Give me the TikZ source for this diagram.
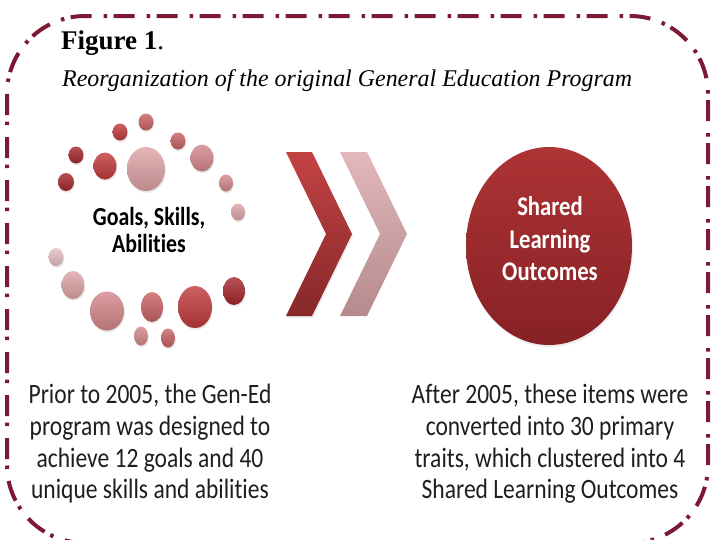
\documentclass[tikz,border=0pt]{standalone}
\usepackage{fontspec}
\usepackage{graphicx}
\usetikzlibrary{shapes.geometric,shadows}
\newfontfamily\bodyfont[FakeStretch=0.84, Ligatures=NoCommon]{Carlito}
\newfontfamily\titlefont{Liberation Serif}
\definecolor{framecol}{HTML}{7C1A33}
\definecolor{txt}{HTML}{1E1E1E}
\definecolor{dk}{HTML}{A3262B}
\definecolor{rd}{HTML}{C0393B}
\definecolor{md}{HTML}{C76164}
\definecolor{pk}{HTML}{D3878A}
\definecolor{lp}{HTML}{DCA3A6}
\definecolor{vl}{HTML}{E6BFC1}
\definecolor{chtop}{HTML}{E2B8BA}
\definecolor{chbot}{HTML}{B68A8D}
\definecolor{slotop}{HTML}{AE3334}
\definecolor{slobot}{HTML}{862126}
\tikzset{
  bub/.style={ellipse, inner sep=0pt, draw=none,
    top color=#1!80!white, bottom color=#1!85!black,
    drop shadow={shadow xshift=0.8pt, shadow yshift=-1.8pt, opacity=0.18}},
  bodytext/.style={align=center, inner sep=0pt, text=txt,
    font=\bodyfont\fontsize{28}{31.7}\selectfont},
}
\begin{document}
\begin{tikzpicture}[x=1pt,y=-1pt]
\useasboundingbox (0,0) rectangle (713,539);
\begin{scope}
\clip (0,0) rectangle (713,539);
\draw[framecol, line width=4pt, dash pattern=on 21pt off 6.5pt on 3.5pt off 12pt,
  rounded corners=78pt] (7,16) rectangle (708,543);
\end{scope}

% title
\node[anchor=base west, inner sep=0pt] (fig) at (61,49)
  {\titlefont\fontsize{27}{30}\selectfont\bfseries Figure 1\mdseries.};
\node[anchor=base west, inner sep=0pt] (sub) at (62,86)
  {\resizebox{570pt}{\height}{\titlefont\itshape\fontsize{24}{28}\selectfont Reorganization of the original General Education Program}};

% bubbles
\node[bub=md, minimum width=15pt, minimum height=17pt] (b1) at (146,122) {};
\node[bub=rd, minimum width=15pt, minimum height=17pt] (b2) at (120,132) {};
\node[bub=md, minimum width=15pt, minimum height=17pt] (b3) at (178,141) {};
\node[bub=dk, minimum width=15pt, minimum height=17pt] (b4) at (76,155) {};
\node[bub=rd, minimum width=23pt, minimum height=27pt] (b5) at (105,166) {};
\node[bub=lp, minimum width=38pt, minimum height=44pt] (b6) at (146,169) {};
\node[bub=pk, minimum width=23pt, minimum height=27pt] (b7) at (202,158) {};
\node[bub=dk, minimum width=16pt, minimum height=18pt] (b8) at (66,182) {};
\node[bub=pk, minimum width=14pt, minimum height=17pt] (b9) at (226,183) {};
\node[bub=lp, minimum width=14pt, minimum height=17pt] (b10) at (238,212) {};
\node[bub=vl, minimum width=15pt, minimum height=18pt] (b11) at (56,257) {};
\node[bub=lp, minimum width=23pt, minimum height=28pt] (b12) at (73,285) {};
\node[bub=pk, minimum width=34pt, minimum height=39pt] (b13) at (107,311) {};
\node[bub=md, minimum width=22pt, minimum height=30pt] (b14) at (152,307) {};
\node[bub=rd, minimum width=34pt, minimum height=42pt] (b15) at (195,307) {};
\node[bub=dk, minimum width=22pt, minimum height=28pt] (b16) at (234,291) {};
\node[bub=pk, minimum width=14pt, minimum height=19pt] (b17) at (141,336) {};
\node[bub=md, minimum width=14pt, minimum height=19pt] (b18) at (168,338) {};

\node[inner sep=0pt, align=center, text=black,
  font=\bodyfont\bfseries\fontsize{26}{27}\selectfont] (goals) at (149,230)
  {Goals, Skills,\\Abilities};

% chevrons
\shade[top color=rd!95!white, bottom color=rd!70!black,
  drop shadow={shadow xshift=1pt, shadow yshift=-2pt, opacity=0.15}]
  (286,152) -- (312,152) -- (352,234) -- (312,316) -- (286,316) -- (326,234) -- cycle;
\shade[top color=chtop, bottom color=chbot]
  (340,152) -- (367,152) -- (407,234) -- (367,316) -- (340,316) -- (380,234) -- cycle;

% big ellipse
\node[ellipse, inner sep=0pt, minimum width=166pt, minimum height=198pt,
  top color=slotop, bottom color=slobot,
  drop shadow={shadow xshift=1pt, shadow yshift=-2pt, opacity=0.15}]
  (slo) at (549,246) {};
\node[align=center, inner sep=0pt, text=white,
  font=\bodyfont\bfseries\fontsize{27}{32.5}\selectfont]
  (slotext) at (550,239) {Shared\\Learning\\Outcomes};

% bottom texts
\node[bodytext, anchor=north] (lt) at (150,384)
  {Prior to 2005, the Gen-Ed\\program was designed to\\achieve 12 goals and 40\\unique skills and abilities};
\node[bodytext, anchor=north] (rt) at (550,384)
  {After 2005, these items were\\converted into 30 primary\\traits, which clustered into 4\\Shared Learning Outcomes};
\end{tikzpicture}
\end{document}
